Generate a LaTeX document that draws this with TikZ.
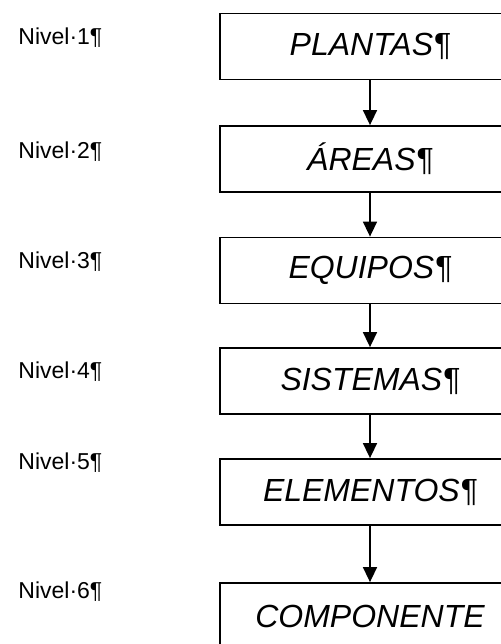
\documentclass[tikz,border=0pt]{standalone}
\usepackage{fontspec}
\setmainfont{Liberation Sans}
\usetikzlibrary{arrows.meta}

\begin{document}
\begin{tikzpicture}[x=0.5pt,y=-0.5pt,
    nivelbox/.style={draw, line width=0.9pt, minimum width=150pt, minimum height=33pt,
      inner sep=0pt, font=\fontsize{16}{18}\selectfont\itshape},
    nivellabel/.style={anchor=west, inner sep=0pt, font=\fontsize{11.5}{13}\selectfont},
    flecha/.style={-{Triangle[length=7.5pt,width=7pt]}, line width=0.8pt}]
        \useasboundingbox (0,0) rectangle (501,644);
        \clip (0,0) rectangle (501,644);
        % niveles
        \node[nivellabel] (n1) at (18,38)  {Nivel·1¶};
        \node[nivellabel] (n2) at (18,152) {Nivel·2¶};
        \node[nivellabel] (n3) at (18,262) {Nivel·3¶};
        \node[nivellabel] (n4) at (18,372) {Nivel·4¶};
        \node[nivellabel] (n5) at (18,463) {Nivel·5¶};
        \node[nivellabel] (n6) at (18,592) {Nivel·6¶};
        % cajas
        \node[nivelbox] (plantas)    at (370,46.5)  {PLANTAS¶};
        \node[nivelbox] (areas)      at (370,159)   {ÁREAS¶};
        \node[nivelbox] (equipos)    at (370,270.5) {EQUIPOS¶};
        \node[nivelbox] (sistemas)   at (370,381)   {SISTEMAS¶};
        \node[nivelbox] (elementos)  at (370,492)   {ELEMENTOS¶};
        \node[nivelbox] (componente) at (370,616)   {COMPONENTE};
        % flechas
        \draw[flecha] (plantas) -- (areas);
        \draw[flecha] (areas) -- (equipos);
        \draw[flecha] (equipos) -- (sistemas);
        \draw[flecha] (sistemas) -- (elementos);
        \draw[flecha] (elementos) -- (componente);
      \end{tikzpicture}
\end{document}
